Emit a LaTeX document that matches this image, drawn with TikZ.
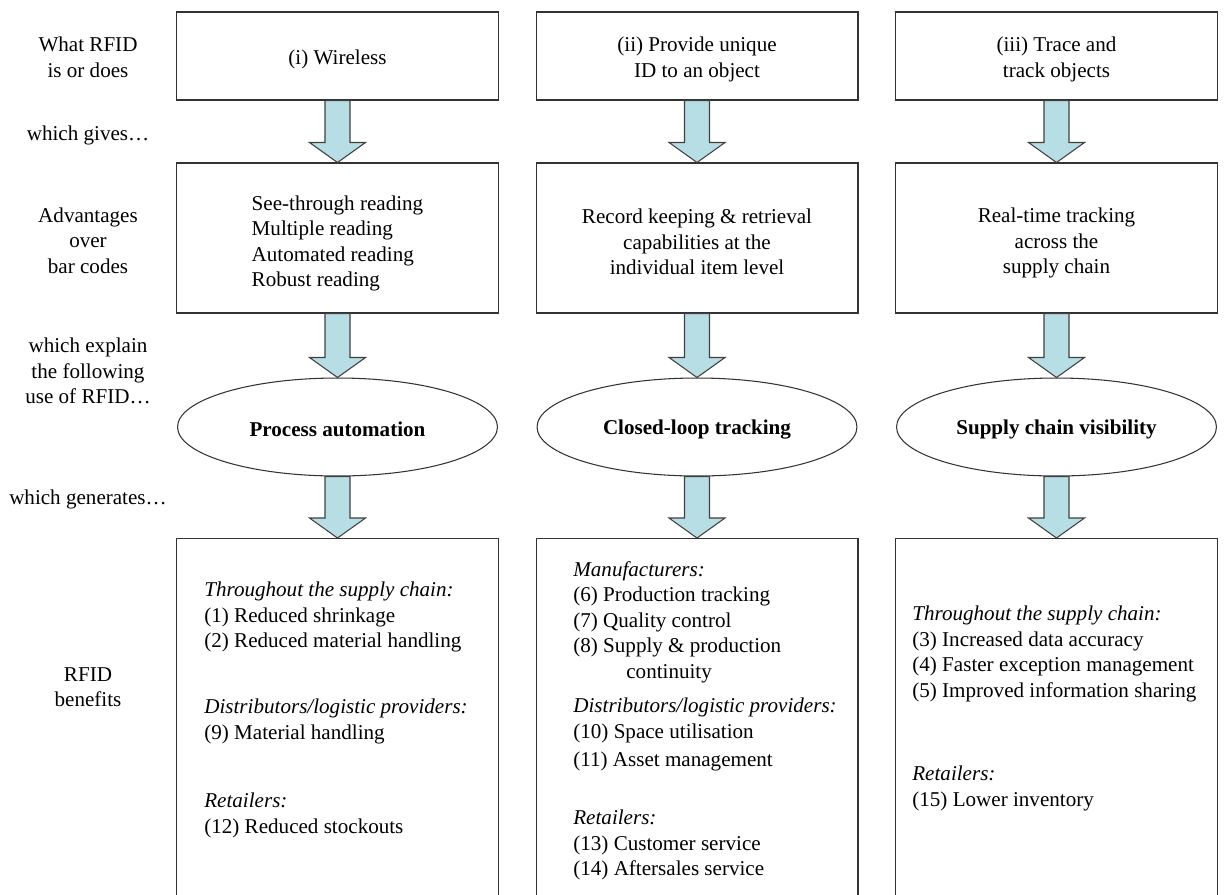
\documentclass[tikz,border=0pt]{standalone}
\usepackage{fontspec}
\setmainfont{Liberation Serif}
\usetikzlibrary{calc,shapes.geometric}
\definecolor{arrowblue}{RGB}{183,222,228}
\tikzset{
  box/.style={draw=black!80, line width=0.6pt, minimum width=6.44cm, align=center, inner sep=0pt},
  oval/.style={ellipse, draw=black!80, line width=0.6pt, minimum width=6.4cm, minimum height=1.96cm, inner sep=0pt},
  lab/.style={align=center, inner sep=0pt},
  grp/.style={align=left, anchor=north west, inner sep=0pt},
  fat/.style={draw=black!75, fill=arrowblue, line width=0.6pt}
}
% pushes the text of a box a little down
\newcommand{\dn}[1]{\rule{0pt}{#1}}
% block arrow from one node down to the next
\newcommand{\fatarrow}[2]{%
  \draw[fat] ($(#1.south)+(-12.5,0)$) -- ($(#2.north)+(-12.5,-20)$) -- ($(#2.north)+(-28,-20)$)
    -- (#2.north) -- ($(#2.north)+(28,-20)$) -- ($(#2.north)+(12.5,-20)$) -- ($(#1.south)+(12.5,0)$) -- cycle;}

\begin{document}
\begin{tikzpicture}[x=0.02cm, y=-0.02cm, font=\fontsize{12}{14.5}\selectfont]
\useasboundingbox (0,0) rectangle (1227,894);
\clip (0,0) rectangle (1227,894);
% row labels
\node[lab] (lab1) at (88,57.5) {What RFID\\is or does};
\node[lab] (lab2) at (88,135) {which gives…};
\node[lab] (lab3) at (88,240.5) {Advantages\\over\\bar codes};
\node[lab] (lab4) at (88,371) {which explain\\the following\\use of RFID…};
\node[lab] (lab5) at (88,499) {which generates…};
\node[lab] (lab6) at (88,687) {RFID\\benefits};
% what RFID is or does
\node[box, minimum height=1.76cm] (is1) at (337.5,56) {\dn{12pt}(i) Wireless};
\node[box, minimum height=1.76cm] (is2) at (697,56) {\dn{12pt}(ii) Provide unique\\ID to an object};
\node[box, minimum height=1.76cm] (is3) at (1056.5,56) {\dn{12pt}(iii) Trace and\\track objects};
% advantages
\node[box, minimum height=3cm, align=left] (adv1) at (337.5,238) {\dn{14.5pt}See-through reading\\Multiple reading\\Automated reading\\Robust reading};
\node[box, minimum height=3cm] (adv2) at (697,238) {\dn{13pt}Record keeping \& retrieval\\capabilities at the\\individual item level};
\node[box, minimum height=3cm] (adv3) at (1056.5,238) {\dn{14.5pt}Real-time tracking\\across the\\supply chain};
% uses
\node[oval] (use1) at (337.5,427) {\dn{11pt}\textbf{Process automation}};
\node[oval] (use2) at (697,427) {\dn{11pt}\textbf{Closed-loop tracking}};
\node[oval] (use3) at (1056.5,427) {\dn{11pt}\textbf{Supply chain visibility}};
% benefits
\node[box, anchor=north, minimum height=8cm] (ben1) at (337.5,538) {};
\node[box, anchor=north, minimum height=8cm] (ben2) at (697,538) {};
\node[box, anchor=north, minimum height=8cm] (ben3) at (1056.5,538) {};
\node[grp] (ben1a) at (204,582) {\textit{Throughout the supply chain:}\\(1) Reduced shrinkage\\(2) Reduced material handling};
\node[grp] (ben1b) at (204,699) {\textit{Distributors/logistic providers:}\\(9) Material handling};
\node[grp] (ben1c) at (204,793) {\textit{Retailers:}\\(12) Reduced stockouts};
\node[grp] (ben2a) at (573,561) {\textit{Manufacturers:}\\(6) Production tracking\\(7) Quality control\\(8) Supply \& production\\\hspace*{1.06cm}continuity};
\node[grp] (ben2b) at (573,698) {\textit{Distributors/logistic providers:}\\(10) Space utilisation\\[1.5pt](11) Asset management};
\node[grp] (ben2c) at (573,810) {\textit{Retailers:}\\(13) Customer service\\(14) Aftersales service};
\node[grp] (ben3a) at (912,606) {\textit{Throughout the supply chain:}\\(3) Increased data accuracy\\(4) Faster exception management\\(5) Improved information sharing};
\node[grp] (ben3b) at (912,766) {\textit{Retailers:}\\(15) Lower inventory};
% arrows
\fatarrow{is1}{adv1} \fatarrow{is2}{adv2} \fatarrow{is3}{adv3}
\fatarrow{adv1}{use1} \fatarrow{adv2}{use2} \fatarrow{adv3}{use3}
\fatarrow{use1}{ben1} \fatarrow{use2}{ben2} \fatarrow{use3}{ben3}
\end{tikzpicture}
\end{document}
